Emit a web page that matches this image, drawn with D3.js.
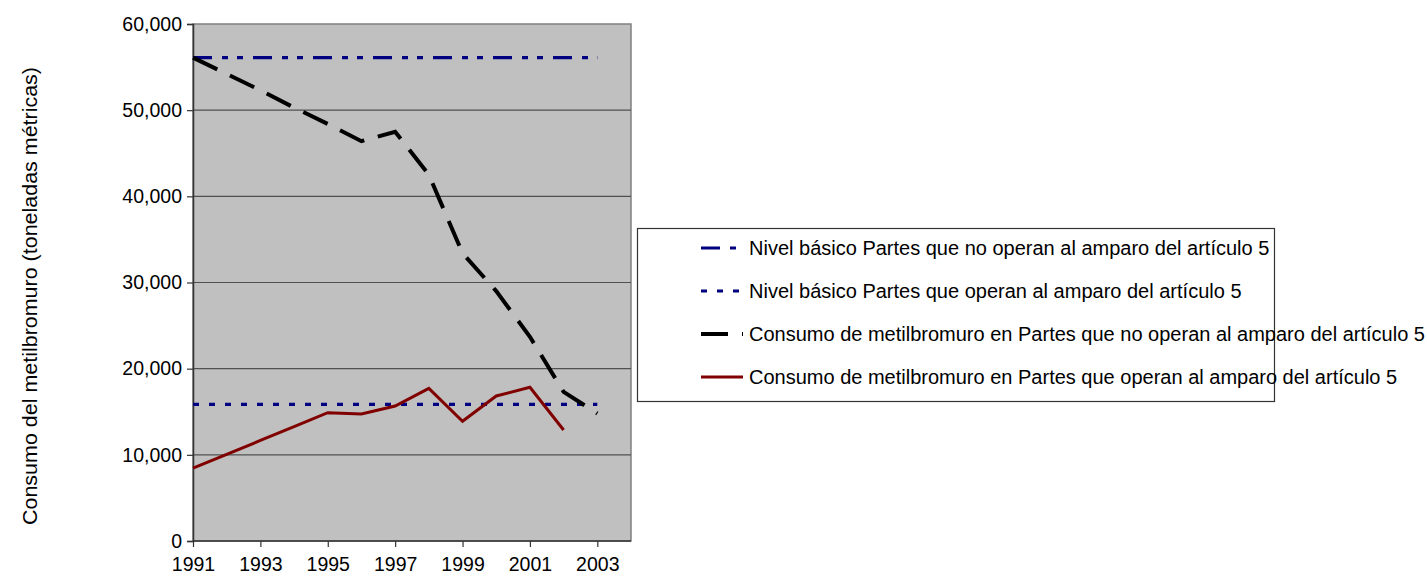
<!DOCTYPE html>
<html>
<head>
<meta charset="utf-8">
<script src="https://cdn.jsdelivr.net/npm/d3@7"></script>
<style>
  body { margin: 0; background: white; }
  text { font-family: "Liberation Sans", Arial, sans-serif; fill: black; }
</style>
</head>
<body>
<script>
var svgWidth = 1427
var svgHeight = 578

// data
var years = [1991, 1992, 1993, 1994, 1995, 1996, 1997, 1998, 1999, 2000, 2001, 2002, 2003]
var nonA5Consumption = [56100, 54200, 52300, 50300, 48400, 46400, 47500, 42500, 33400, 29000, 23700, 17300, 14800]
var a5Years = [1991, 1992, 1993, 1994, 1995, 1996, 1997, 1998, 1999, 2000, 2001, 2002]
var a5Consumption = [8450, 10050, 11670, 13280, 14890, 14740, 15670, 17720, 13890, 16830, 17840, 12880]
var nonA5Baseline = 56100
var a5Baseline = 15850
var xTicks = [1991, 1993, 1995, 1997, 1999, 2001, 2003]
var yTicks = [0, 10000, 20000, 30000, 40000, 50000, 60000]

var legendLabels = [
  'Nivel básico Partes que no operan al amparo del artículo 5',
  'Nivel básico Partes que operan al amparo del artículo 5',
  'Consumo de metilbromuro en Partes que no operan al amparo del artículo 5',
  'Consumo de metilbromuro en Partes que operan al amparo del artículo 5'
]

var plotLeft = 193
var plotRight = 631
var plotTop = 24
var plotBottom = 541

var svgContainer = d3.select("body")
  .append("svg")
  .attr("width", svgWidth)
  .attr("height", svgHeight)

var x = d3.scaleLinear().domain([1991, 2004]).range([plotLeft, plotRight])
var y = d3.scaleLinear().domain([0, 60000]).range([plotBottom, plotTop])

// plot background
svgContainer.append("rect")
  .attr("x", plotLeft)
  .attr("y", plotTop)
  .attr("width", plotRight - plotLeft)
  .attr("height", plotBottom - plotTop)
  .attr("fill", "#c0c0c0")
  .attr("stroke", "#808080")
  .attr("stroke-width", 1.5)

// gridlines
svgContainer.append("g").selectAll("line")
  .data(yTicks.slice(1, -1))
  .enter()
  .append("line")
  .attr("x1", plotLeft)
  .attr("x2", plotRight)
  .attr("y1", d => y(d))
  .attr("y2", d => y(d))
  .attr("stroke", "#505050")
  .attr("stroke-width", 1.2)

// axes
var yAxis = svgContainer.append("g")
  .attr("transform", "translate(" + plotLeft + ",0)")
  .call(d3.axisLeft(y).tickValues(yTicks).tickFormat(d3.format(",")).tickSize(6).tickPadding(5))

var xAxis = svgContainer.append("g")
  .attr("transform", "translate(0," + plotBottom + ")")
  .call(d3.axisBottom(x).tickValues(xTicks).tickFormat(d3.format("d")).tickSize(6).tickPadding(10))

svgContainer.selectAll(".domain").attr("stroke", "#333").attr("stroke-width", 1.5)
svgContainer.selectAll(".tick line").attr("stroke", "#333").attr("stroke-width", 1.2)
svgContainer.selectAll(".tick text")
  .style("font-family", '"Liberation Sans", Arial, sans-serif')
  .style("font-size", "19.5px")
  .attr("fill", "black")
xAxis.select(".domain").attr("d", "M" + plotLeft + ",0H" + plotRight)

// y axis title
svgContainer.append("text")
  .attr("transform", "translate(37,296) rotate(-90)")
  .attr("text-anchor", "middle")
  .attr("textLength", 458)
  .attr("lengthAdjust", "spacingAndGlyphs")
  .style("font-size", "21px")
  .text("Consumo del metilbromuro (toneladas métricas)")

var lineGen = d3.line()
  .x(d => x(d[0]))
  .y(d => y(d[1]))

var seriesStyles = [
  { color: "#000080", width: 3.2, dash: "19,10,6,9,6,10" },
  { color: "#000080", width: 3.2, dash: "6,10" },
  { color: "black", width: 4, dash: "27,14" },
  { color: "#800000", width: 3, dash: null }
]

var seriesData = [
  [[1991, nonA5Baseline], [2003, nonA5Baseline]],
  [[1991, a5Baseline], [2003, a5Baseline]],
  years.map((yr, i) => [yr, nonA5Consumption[i]]),
  a5Years.map((yr, i) => [yr, a5Consumption[i]])
]

svgContainer.append("g").selectAll("path")
  .data(seriesData)
  .enter()
  .append("path")
  .attr("d", d => lineGen(d))
  .attr("fill", "none")
  .attr("stroke", (d, i) => seriesStyles[i].color)
  .attr("stroke-width", (d, i) => seriesStyles[i].width)
  .attr("stroke-dasharray", (d, i) => seriesStyles[i].dash)

// legend
var legendGroup = svgContainer.append("g")

legendGroup.append("rect")
  .attr("x", 637.5)
  .attr("y", 228.5)
  .attr("width", 637)
  .attr("height", 173)
  .attr("fill", "white")
  .attr("stroke", "#333")
  .attr("stroke-width", 1.2)

var legendRows = legendGroup.selectAll("g.row")
  .data(legendLabels)
  .enter()
  .append("g")
  .attr("class", "row")
  .attr("transform", (d, i) => "translate(0," + (248 + i * 43) + ")")

legendRows.append("line")
  .attr("x1", 701)
  .attr("x2", 743)
  .attr("y1", 0)
  .attr("y2", 0)
  .attr("stroke", (d, i) => seriesStyles[i].color)
  .attr("stroke-width", (d, i) => seriesStyles[i].width)
  .attr("stroke-dasharray", (d, i) => seriesStyles[i].dash)

legendRows.append("text")
  .attr("x", 749)
  .attr("y", 0)
  .attr("dy", "0.35em")
  .style("font-size", "20px")
  .text(d => d)
</script>
</body>
</html>
